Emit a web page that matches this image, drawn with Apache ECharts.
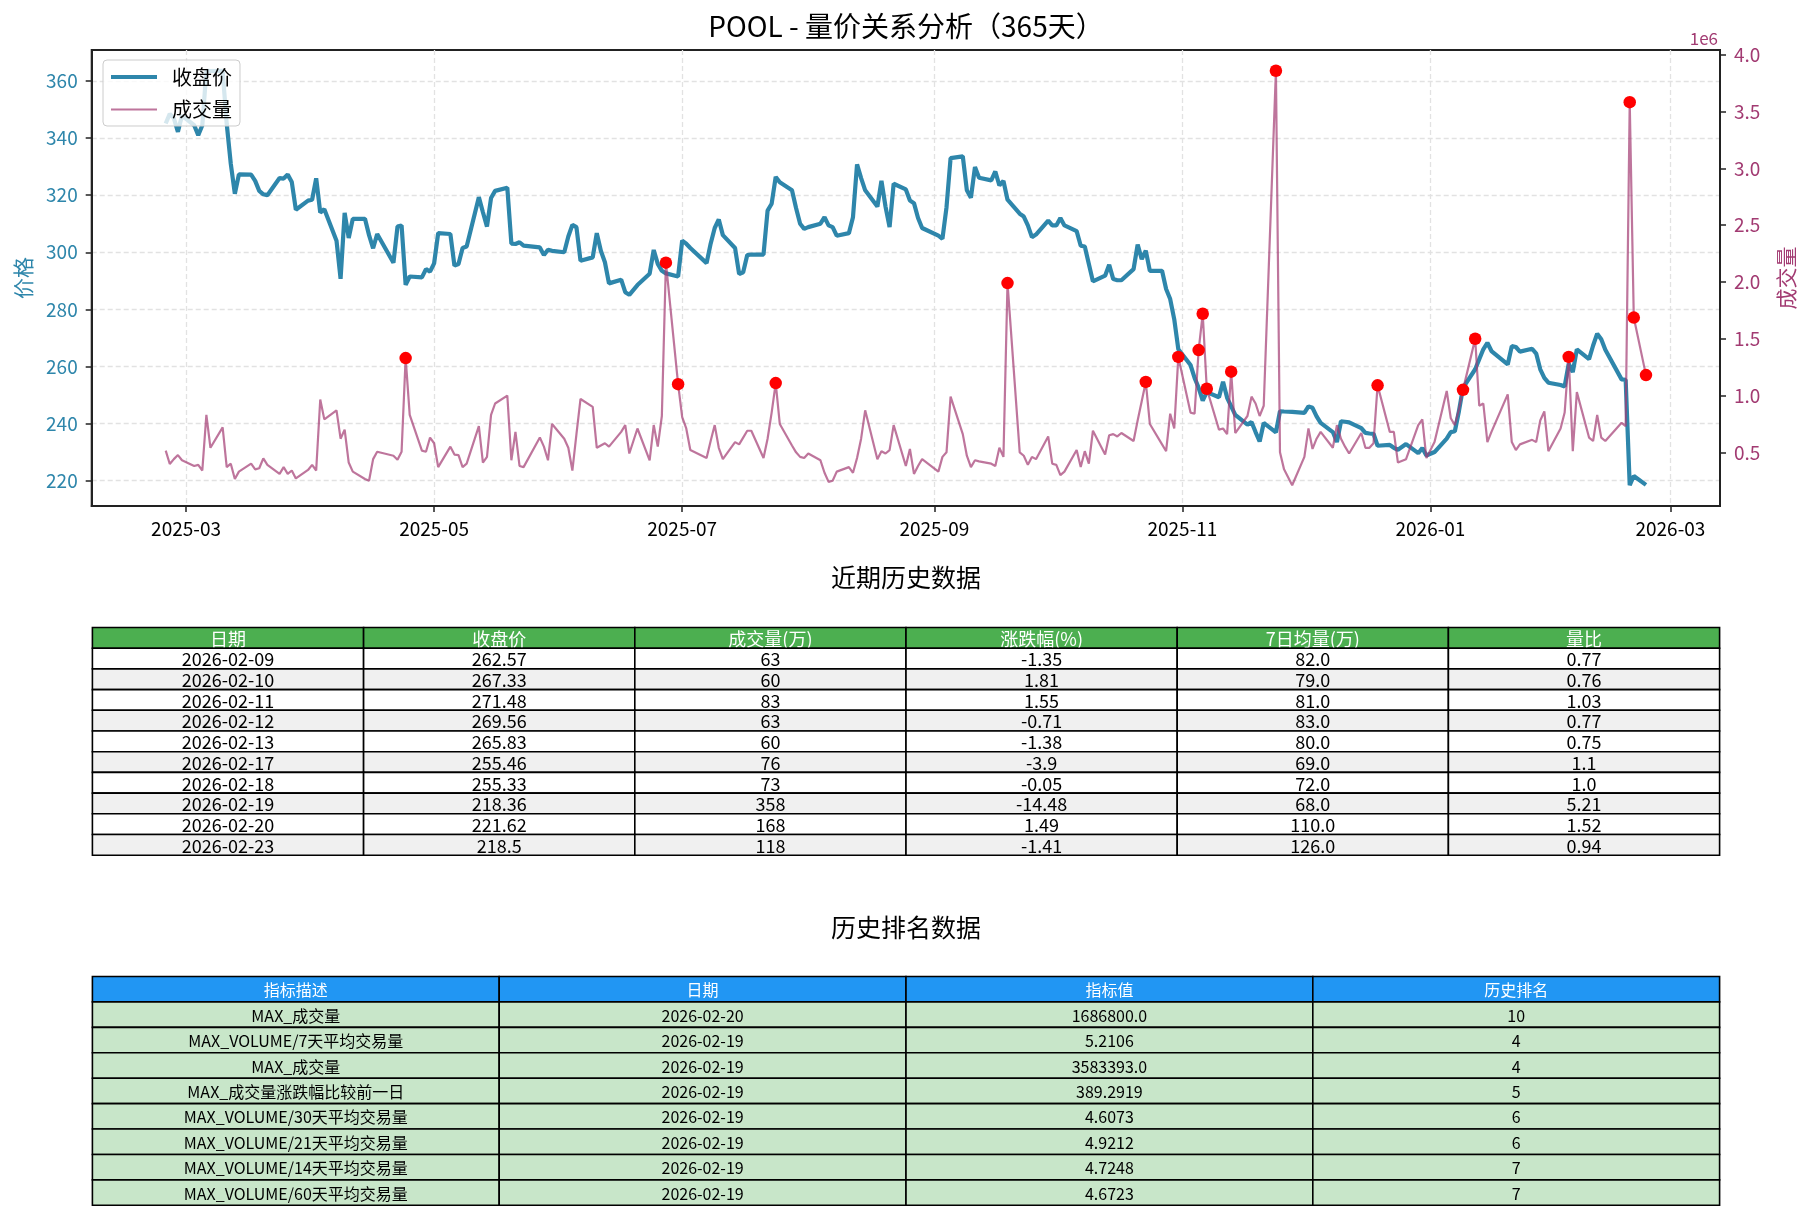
<!DOCTYPE html>
<html><head><meta charset="utf-8">
<script src="https://cdn.jsdelivr.net/npm/echarts@6/dist/echarts.min.js"></script>
<style>html,body{margin:0;padding:0;background:#fff}#c{width:1812px;height:1220px}</style>
</head><body><div id="c"></div>
<script>
const FONT = '"Noto Sans CJK SC","Noto Sans",sans-serif';

// ---------- data ----------
const tradeDaysByMonth = [
  ['2025-02',[24,25,26,27,28]],
  ['2025-03',[3,4,5,6,7,10,11,12,13,14,17,18,19,20,21,24,25,26,27,28,31]],
  ['2025-04',[1,2,3,4,7,8,9,10,11,14,15,16,17,21,22,23,24,25,28,29,30]],
  ['2025-05',[1,2,5,6,7,8,9,12,13,14,15,16,19,20,21,22,23,27,28,29,30]],
  ['2025-06',[2,3,4,5,6,9,10,11,12,13,16,17,18,20,23,24,25,26,27,30]],
  ['2025-07',[1,2,3,7,8,9,10,11,14,15,16,17,18,21,22,23,24,25,28,29,30,31]],
  ['2025-08',[1,4,5,6,7,8,11,12,13,14,15,18,19,20,21,22,25,26,27,28,29]],
  ['2025-09',[2,3,4,5,8,9,10,11,12,15,16,17,18,19,22,23,24,25,26,29,30]],
  ['2025-10',[1,2,3,6,7,8,9,10,13,14,15,16,17,20,21,22,23,24,27,28,29,30,31]],
  ['2025-11',[3,4,5,6,7,10,11,12,13,14,17,18,19,20,21,24,25,26,28]],
  ['2025-12',[1,2,3,4,5,8,9,10,11,12,15,16,17,18,19,22,23,24,26,29,30,31]],
  ['2026-01',[2,5,6,7,8,9,12,13,14,15,16,20,21,22,23,26,27,28,29,30]],
  ['2026-02',[2,3,4,5,6,9,10,11,12,13,17,18,19,20,23]]
];

const closePrice = [
  345.1,348.5,347.0,342.2,347.9,
  344.5,341.0,344.5,363.6,363.5,363.6,345.0,331.0,320.5,327.3,327.2,325.0,321.5,320.3,320.0,326.0,325.8,327.2,324.6,314.9,318.1,
  318.4,325.9,313.9,315.1,304.0,290.7,313.8,305.0,311.7,311.7,306.0,301.4,306.4,296.3,309.0,309.4,288.6,291.5,291.2,294.1,293.2,
  296.1,306.7,306.4,295.3,295.9,301.5,302.0,319.3,314.0,309.0,319.0,321.5,322.6,303.0,302.9,303.5,302.3,301.7,299.0,300.9,300.5,
  300.0,305.5,309.6,308.8,297.0,298.2,306.7,300.5,296.5,289.1,290.4,286.0,285.1,288.5,292.5,300.8,295.9,293.5,292.6,291.5,
  304.1,303.0,301.5,296.2,303.0,308.5,311.5,306.0,301.5,292.4,293.0,299.0,299.2,299.2,314.6,317.0,326.4,324.5,321.7,315.5,310.0,308.2,
  308.8,310.0,312.3,309.4,308.8,305.8,306.7,312.3,330.8,326.0,321.7,316.0,325.0,316.0,308.8,324.0,322.0,318.1,317.2,312.0,308.5,
  305.8,304.7,315.8,333.0,333.6,321.7,319.1,329.9,326.1,325.2,328.3,323.4,325.0,318.4,313.5,312.5,309.4,305.3,306.2,311.1,309.4,
  309.4,312.0,309.4,307.4,302.3,302.0,295.9,289.8,291.8,295.6,290.6,290.2,290.2,294.1,302.7,297.6,300.6,293.5,293.5,287.1,283.6,276.5,266.0,
  260.5,256.0,252.5,248.0,251.0,249.2,254.6,249.0,246.0,243.0,239.6,240.5,237.0,233.7,240.2,236.9,244.3,244.2,244.1,
  243.7,246.0,245.5,242.5,240.2,237.0,233.5,240.8,240.6,240.4,238.4,236.7,236.5,236.4,232.2,232.5,231.5,230.8,232.8,229.6,231.4,228.8,
  230.0,234.7,237.0,237.3,244.3,252.5,259.0,262.5,266.0,268.3,265.4,260.7,267.1,266.8,265.2,266.2,264.5,259.0,256.0,254.3,
  253.5,253.0,261.0,258.0,266.0,262.57,267.33,271.48,269.56,265.83,255.46,255.33,218.36,221.62,218.5
];

// volume in millions of shares (axis shows 1e6)
const volumeM = [
  0.515,0.397,0.44,0.476,0.43,
  0.38,0.39,0.34,0.83,0.54,0.72,0.37,0.40,0.265,0.33,0.40,0.35,0.36,0.447,0.39,0.31,0.37,0.31,0.34,0.27,0.345,
  0.39,0.34,0.965,0.79,0.87,0.62,0.70,0.41,0.33,0.265,0.25,0.44,0.505,0.47,0.435,0.505,1.33,0.83,0.515,0.505,0.63,
  0.58,0.37,0.55,0.48,0.475,0.37,0.40,0.73,0.41,0.46,0.83,0.93,1.0,0.43,0.68,0.38,0.37,0.63,0.55,0.43,0.75,
  0.62,0.54,0.34,0.66,0.97,0.90,0.54,0.56,0.58,0.55,0.68,0.74,0.49,0.71,0.43,0.74,0.55,0.82,2.17,1.10,
  0.81,0.71,0.52,0.45,0.60,0.74,0.54,0.44,0.59,0.57,0.63,0.69,0.69,0.45,0.62,0.85,1.11,0.75,0.56,0.50,0.46,0.45,
  0.49,0.43,0.32,0.24,0.25,0.33,0.37,0.32,0.45,0.62,0.87,0.44,0.51,0.49,0.52,0.74,0.38,0.53,0.31,0.38,0.44,
  0.33,0.46,0.50,0.99,0.66,0.47,0.37,0.43,0.42,0.40,0.38,0.54,0.46,1.99,0.50,0.47,0.39,0.46,0.44,0.64,0.40,
  0.39,0.30,0.33,0.52,0.37,0.51,0.40,0.69,0.48,0.65,0.66,0.64,0.67,0.60,0.78,0.95,1.12,0.75,0.57,0.51,0.84,0.71,1.34,
  0.85,0.84,1.40,1.72,1.06,0.70,0.71,0.66,1.21,0.67,0.82,0.99,0.93,0.82,0.91,3.86,0.50,0.35,0.21,
  0.46,0.71,0.53,0.62,0.68,0.54,0.74,0.62,0.55,0.49,0.67,0.54,0.54,0.58,1.09,0.68,0.68,0.41,0.44,0.74,0.79,0.45,
  0.59,1.04,0.80,0.74,0.88,1.05,1.50,0.91,0.93,0.59,0.68,1.01,0.59,0.52,0.57,0.61,0.59,0.78,0.86,0.51,
  0.71,0.85,1.34,0.51,1.03,0.63,0.60,0.83,0.63,0.60,0.76,0.73,3.583393,1.6868,1.18
];

const anomalyDates = ['2025-04-24','2025-06-27','2025-06-30','2025-07-24','2025-09-19','2025-10-23','2025-10-31',
  '2025-11-05','2025-11-06','2025-11-07','2025-11-13','2025-11-24','2025-12-19','2026-01-09','2026-01-12',
  '2026-02-04','2026-02-19','2026-02-20','2026-02-23'];

const xTickMonths = ['2025-03','2025-05','2025-07','2025-09','2025-11','2026-01','2026-03'];
const priceTicks = [220,240,260,280,300,320,340,360];
const volumeTicks = [0.5,1.0,1.5,2.0,2.5,3.0,3.5,4.0];

const recentHeader = ['日期','收盘价','成交量(万)','涨跌幅(%)','7日均量(万)','量比'];
const recentRows = [
  ['2026-02-09','262.57','63','-1.35','82.0','0.77'],
  ['2026-02-10','267.33','60','1.81','79.0','0.76'],
  ['2026-02-11','271.48','83','1.55','81.0','1.03'],
  ['2026-02-12','269.56','63','-0.71','83.0','0.77'],
  ['2026-02-13','265.83','60','-1.38','80.0','0.75'],
  ['2026-02-17','255.46','76','-3.9','69.0','1.1'],
  ['2026-02-18','255.33','73','-0.05','72.0','1.0'],
  ['2026-02-19','218.36','358','-14.48','68.0','5.21'],
  ['2026-02-20','221.62','168','1.49','110.0','1.52'],
  ['2026-02-23','218.5','118','-1.41','126.0','0.94']
];
const rankHeader = ['指标描述','日期','指标值','历史排名'];
const rankRows = [
  ['MAX_成交量','2026-02-20','1686800.0','10'],
  ['MAX_VOLUME/7天平均交易量','2026-02-19','5.2106','4'],
  ['MAX_成交量','2026-02-19','3583393.0','4'],
  ['MAX_成交量涨跌幅比较前一日','2026-02-19','389.2919','5'],
  ['MAX_VOLUME/30天平均交易量','2026-02-19','4.6073','6'],
  ['MAX_VOLUME/21天平均交易量','2026-02-19','4.9212','6'],
  ['MAX_VOLUME/14天平均交易量','2026-02-19','4.7248','7'],
  ['MAX_VOLUME/60天平均交易量','2026-02-19','4.6723','7']
];

// ---------- build ----------
function ts(str){ const p = str.split('-').map(Number); return new Date(p[0], p[1]-1, p[2] || 1).getTime(); }
const dates = [];
tradeDaysByMonth.forEach(([m, days]) => days.forEach(d => dates.push(m + '-' + String(d).padStart(2,'0'))));
const times = dates.map(ts);
const priceData = times.map((t,i) => [t, closePrice[i]]);
const volData = times.map((t,i) => [t, volumeM[i]]);
const anomalyData = anomalyDates.map(d => { const i = dates.indexOf(d); return [times[i], volumeM[i]]; });

const tSpan = times[times.length-1] - times[0];
const xMin = times[0] - 0.05*tSpan, xMax = times[times.length-1] + 0.05*tSpan;
const pLo = Math.min(...closePrice), pHi = Math.max(...closePrice), pR = pHi - pLo;
const vLo = Math.min(...volumeM), vHi = Math.max(...volumeM), vR = vHi - vLo;
const xTicks = xTickMonths.map(ts);

function tableSeries(xi, yi, header, rows, headerFill, rowFill, fontSize){
  const cells = [];
  header.forEach((t,c) => cells.push({c, r:0, t, fill:headerFill, color:'#ffffff'}));
  rows.forEach((row,r) => row.forEach((t,c) => cells.push({c, r:r+1, t, fill:rowFill(r), color:'#000000'})));
  return {
    type:'custom', xAxisIndex:xi, yAxisIndex:yi, silent:true, clip:false, z:3,
    data: cells.map(o => [o.c, o.r]),
    renderItem: (params, api) => {
      const o = cells[params.dataIndex];
      const c = api.value(0), r = api.value(1);
      const p0 = api.coord([c, r]), p1 = api.coord([c+1, r+1]);
      return {type:'group', children:[
        {type:'rect', shape:{x:p0[0], y:p0[1], width:p1[0]-p0[0], height:p1[1]-p0[1]},
         style:{fill:o.fill, stroke:'#000', lineWidth:1.6}},
        {type:'text', x:(p0[0]+p1[0])/2, y:(p0[1]+p1[1])/2 + 1,
         style:{text:o.t, fill:o.color, fontSize:fontSize, fontFamily:FONT, align:'center', verticalAlign:'middle'}}
      ]};
    }
  };
}

function monthLabel(v){ const d = new Date(v); return d.getFullYear() + '-' + String(d.getMonth()+1).padStart(2,'0'); }

const legendText = {fontSize:20, fontFamily:FONT, color:'#000', padding:[0,0,0,10]};
const gridDash = {color:'#e2e2e2', width:1.3, type:[5,3]};
const chart = echarts.init(document.getElementById('c'), null, {renderer:'canvas'});
chart.setOption({
  animation:false,
  backgroundColor:'#ffffff',
  textStyle:{fontFamily:FONT},
  graphic:[
    {type:'text', x:906, y:26, style:{text:'POOL - 量价关系分析（365天）', fontSize:28, fontFamily:FONT, fill:'#000', align:'center', verticalAlign:'middle'}},
    {type:'text', x:906, y:577, style:{text:'近期历史数据', fontSize:25, fontFamily:FONT, fill:'#000', align:'center', verticalAlign:'middle'}},
    {type:'text', x:906, y:927, style:{text:'历史排名数据', fontSize:25, fontFamily:FONT, fill:'#000', align:'center', verticalAlign:'middle'}},
    {type:'text', x:1718, y:39, style:{text:'1e6', fontSize:17, fontFamily:FONT, fill:'#A23B72', align:'right', verticalAlign:'middle'}}
  ],
  legend:[
    {data:[{name:'收盘价', icon:'rect', itemStyle:{color:'#2E86AB', opacity:1}}],
     orient:'vertical', left:103, top:60, padding:[7,8,39,8], itemWidth:46, itemHeight:4,
     backgroundColor:'rgba(255,255,255,0.8)', borderColor:'#cccccc', borderWidth:1, borderRadius:4,
     textStyle:legendText, z:10},
    {data:[{name:'成交量', icon:'rect', itemStyle:{color:'#A23B72', opacity:0.7}}],
     orient:'vertical', left:103, top:92.5, padding:[7,8,7,8], itemWidth:46, itemHeight:2.2,
     textStyle:legendText, z:11}
  ],
  grid:[
    {left:91.7, top:50, width:1628.3, height:456, show:true, borderColor:'#222', borderWidth:2, backgroundColor:'transparent', outerBoundsMode:'none'},
    {left:92.4, top:627.5, width:1627.2, height:227.7, outerBoundsMode:'none'},
    {left:92.4, top:976.5, width:1627.2, height:228.8, outerBoundsMode:'none'}
  ],
  xAxis:[
    {type:'value', gridIndex:0, min:xMin, max:xMax, scale:true,
     axisLine:{show:true, onZero:false, lineStyle:{color:'#222', width:2}},
     axisTick:{show:true, customValues:xTicks, length:6, lineStyle:{color:'#222', width:1.5}},
     axisLabel:{customValues:xTicks, fontSize:19, color:'#000', margin:13, fontFamily:FONT, formatter:monthLabel},
     splitLine:{show:true, lineStyle:gridDash}},
    {type:'value', gridIndex:1, min:0, max:6, show:false},
    {type:'value', gridIndex:2, min:0, max:4, show:false}
  ],
  yAxis:[
    {type:'value', gridIndex:0, position:'left', min:pLo-0.05*pR, max:pHi+0.05*pR,
     axisLine:{show:true, onZero:false, lineStyle:{color:'#222', width:2}},
     axisTick:{show:true, customValues:priceTicks, length:6, lineStyle:{color:'#222', width:1.5}},
     axisLabel:{customValues:priceTicks, fontSize:19, color:'#2E86AB', margin:14, fontFamily:FONT},
     splitLine:{show:true, lineStyle:gridDash},
     name:'价格', nameLocation:'middle', nameGap:58, nameRotate:90,
     nameTextStyle:{color:'#2E86AB', fontSize:21, fontFamily:FONT}},
    {type:'value', gridIndex:0, position:'right', min:vLo-0.05*vR, max:vHi+0.05*vR,
     axisLine:{show:true, onZero:false, lineStyle:{color:'#222', width:2}},
     axisTick:{show:true, customValues:volumeTicks, length:6, lineStyle:{color:'#222', width:1.5}},
     axisLabel:{customValues:volumeTicks, fontSize:19, color:'#A23B72', margin:14, fontFamily:FONT,
       formatter:v => v.toFixed(1)},
     splitLine:{show:false},
     name:'成交量', nameLocation:'middle', nameGap:56, nameRotate:90,
     nameTextStyle:{color:'#A23B72', fontSize:21, fontFamily:FONT}},
    {type:'value', gridIndex:1, min:0, max:recentRows.length+1, inverse:true, show:false},
    {type:'value', gridIndex:2, min:0, max:rankRows.length+1, inverse:true, show:false}
  ],
  series:[
    {name:'收盘价', type:'line', xAxisIndex:0, yAxisIndex:0, data:priceData, symbol:'none', z:2,
     lineStyle:{color:'#2E86AB', width:4.2}, itemStyle:{color:'#2E86AB'}},
    {name:'成交量', type:'line', xAxisIndex:0, yAxisIndex:1, data:volData, symbol:'none', z:3,
     lineStyle:{color:'#A23B72', width:2.2, opacity:0.7}, itemStyle:{color:'#A23B72', opacity:0.7}},
    {name:'异常', type:'scatter', xAxisIndex:0, yAxisIndex:1, data:anomalyData, symbolSize:12.5, z:5,
     itemStyle:{color:'#ff0000', opacity:1}},
    tableSeries(1, 2, recentHeader, recentRows, '#4CAF50', r => (r % 2 === 0 ? '#ffffff' : '#f0f0f0'), 18),
    tableSeries(2, 3, rankHeader, rankRows, '#2196F3', r => '#C8E6C9', 16)
  ]
});
</script>
</body></html>
